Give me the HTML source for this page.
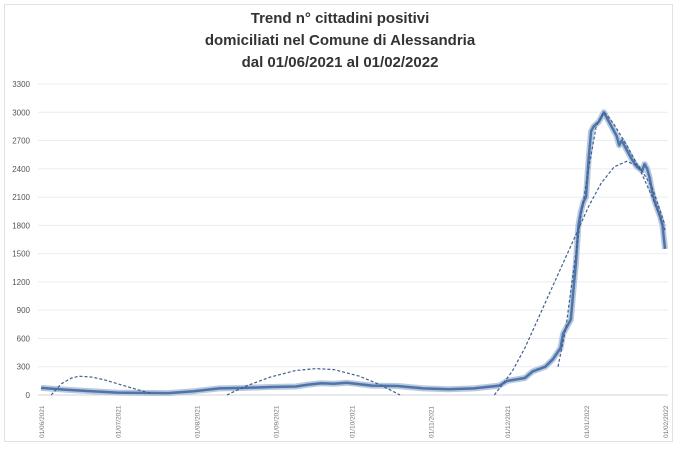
<!DOCTYPE html>
<html><head><meta charset="utf-8"><style>
body{margin:0;background:#fff;width:680px;height:449px;overflow:hidden}
svg text{font-family:"Liberation Sans",sans-serif}
</style></head><body>
<svg id="chart" width="680" height="449" xmlns="http://www.w3.org/2000/svg">
<rect x="4.5" y="4.5" width="668" height="437" fill="#fff" stroke="#dde3ea"/>
<g font-size="15" font-weight="bold" fill="#333" text-anchor="middle">
<text x="340" y="23">Trend n° cittadini positivi</text>
<text x="340" y="45">domiciliati nel Comune di Alessandria</text>
<text x="340" y="67">dal 01/06/2021 al 01/02/2022</text>
</g>
<g id="grid"></g><g id="yt"></g><g id="xt"></g><g id="series"></g>
</svg>
<script>
const yTicks=[0,300,600,900,1200,1500,1800,2100,2400,2700,3000,3300];
const xLabels=["01/06/2021","01/07/2021","01/08/2021","01/09/2021","01/10/2021","01/11/2021","01/12/2021","01/01/2022","01/02/2022"];
const xLabelDays=[0,30,61,92,122,153,183,214,245];
const mainDays=[0,10,20,30,40,50,60,70,80,90,100,105,110,115,120,130,140,150,160,170,180,183,190,193,198,201,204,205,207,208,209,210,211,212,213,214,215,216,217,219,221,222,224,226,227,228,230,232,234,236,237,238,239,240,241,243,244,245];
const mainVals=[75,55,40,25,22,20,40,70,75,85,90,110,125,120,130,100,95,70,60,70,100,150,180,250,300,380,500,650,750,800,1100,1400,1800,1950,2050,2100,2500,2800,2850,2900,3000,2950,2850,2750,2650,2700,2600,2500,2420,2380,2450,2400,2300,2150,2050,1900,1800,1550];
const t1Days=[4,8,12,15,20,25,30,35,40,43];
const t1Vals=[0,120,180,200,190,160,120,80,40,20];
const t2Days=[73,80,90,100,108,115,125,133,141];
const t2Vals=[0,90,190,260,280,270,200,110,0];
const t3Days=[178,185,190,195,200,205,210,215,220,225,230,235,240,245];
const t3Vals=[0,250,500,800,1100,1400,1700,2000,2250,2420,2480,2420,2200,1800];
const t4Days=[203,206,209,212,215,218,221,222,225,230,235,240,245];
const t4Vals=[300,700,1300,1900,2400,2850,3000,2980,2870,2650,2400,2100,1750];
const X0=41,X1=665,D=245,Y0=395,Y1=84,VMAX=3300;
const x=d=>X0+(X1-X0)*d/D, y=v=>Y0-(Y0-Y1)*v/VMAX;
const NS="http://www.w3.org/2000/svg";
function mk(t,p,a){const e=document.createElementNS(NS,t);for(const k in a)e.setAttribute(k,a[k]);document.getElementById(p).appendChild(e);return e;}
yTicks.forEach(v=>{
 const g=mk('line','grid',{x1:38,x2:668,y1:y(v),y2:y(v),stroke:v===0?'#d0d6de':'#e8ecf0'});
 
 
 const t=mk('text','yt',{x:30,y:y(v)+3,'text-anchor':'end','font-size':8,fill:'#555'});
 t.textContent=v;
 
 
});
xLabels.forEach((l,i)=>{
 const px=x(xLabelDays[i]);
 const t=mk('text','xt',{x:0,y:0,transform:`translate(${px+3},438) rotate(-90)`,'font-size':6.5,fill:'#777'});
 t.textContent=l;
 
 
});
function path(days,vals){return days.map((d,i)=>(i?'L':'M')+x(d).toFixed(1)+','+y(vals[i]).toFixed(1)).join('');}
const glow=mk('path','series',{d:path(mainDays,mainVals),fill:'none',stroke:'#b9c9e0',"stroke-width":6,"stroke-linejoin":'round'});


const m=mk('path','series',{d:path(mainDays,mainVals),fill:'none',stroke:'#4f74a8',"stroke-width":2.5,"stroke-linejoin":'round'});


[[t1Days,t1Vals],[t2Days,t2Vals],[t3Days,t3Vals],[t4Days,t4Vals]].forEach(([d,v],i)=>{
 const p=mk('path','series',{d:path(d,v),fill:'none',stroke:'#3e5f8f',"stroke-width":1.2,"stroke-dasharray":'3,2'});
 
 
});
</script>
</body></html>
